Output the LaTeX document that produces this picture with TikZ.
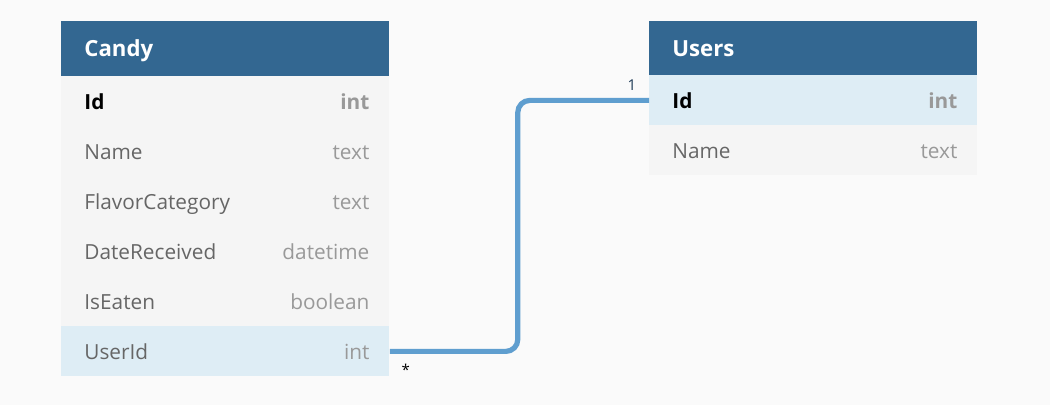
\documentclass[tikz,border=0pt]{standalone}
\usepackage{fontspec}
\setmainfont{Open Sans}
\usetikzlibrary{positioning}
\definecolor{ebg}{HTML}{FAFAFA}
\definecolor{ehead}{HTML}{336791}
\definecolor{erow}{HTML}{F5F5F5}
\definecolor{ekey}{HTML}{DEEDF5}
\definecolor{eline}{HTML}{5F9ECF}
\definecolor{efield}{HTML}{666666}
\definecolor{etype}{HTML}{999999}
\definecolor{ecard}{HTML}{1F3B57}

\tikzset{
 tblhead/.style={fill=ehead, minimum width=164pt, minimum height=27.5pt, inner sep=0pt, anchor=north west},
 tblrow/.style={fill=erow, minimum width=164pt, minimum height=25pt, inner sep=0pt, anchor=north west},
 tbltitle/.style={anchor=west, text=white, font=\fontsize{11.1}{13}\selectfont\bfseries, inner sep=0pt, text height=0.72em, text depth=0pt},
 fieldname/.style={anchor=west, text=efield, font=\fontsize{10.4}{12}\selectfont, inner sep=0pt, yshift=-0.6pt, text height=0.72em, text depth=0pt},
 fieldtype/.style={anchor=east, text=etype, font=\fontsize{10.4}{12}\selectfont, inner sep=0pt, yshift=-0.6pt, text height=0.72em, text depth=0pt},
 rel/.style={draw=eline, line width=2.6pt, rounded corners=6pt},
 card/.style={font=\fontsize{7.5}{9}\selectfont, inner sep=0pt}
}

\begin{document}
\begin{tikzpicture}[x=0.5pt,y=-0.5pt]
 \fill[ebg] (0,0) rectangle (1050,405);
 \useasboundingbox (0,0) rectangle (1050,405);
 % Candy table
 \node[tblhead] (candy) at (61,21) {};
 \node[tbltitle] (candy-title) at ([xshift=11.5pt]candy.west) {Candy};
 \node[tblrow] (candy-id) at (61,76) {};
 \node[fieldname, text=black, font=\fontsize{10.4}{12}\selectfont\bfseries] at ([xshift=11.5pt]candy-id.west) {Id};
 \node[fieldtype, font=\fontsize{10.4}{12}\selectfont\bfseries] at ([xshift=-10pt]candy-id.east) {int};
 \foreach \f/\t [count=\i] in {Name/text, FlavorCategory/text, DateReceived/datetime, IsEaten/boolean} {
  \node[tblrow] (candy-\i) at (61,76+50*\i) {};
  \node[fieldname] at ([xshift=11.5pt]candy-\i.west) {\f};
  \node[fieldtype] at ([xshift=-10pt]candy-\i.east) {\t};
 }
 \node[tblrow, fill=ekey] (candy-userid) at (61,326) {};
 \node[fieldname] at ([xshift=11.5pt]candy-userid.west) {UserId};
 \node[fieldtype] at ([xshift=-10pt]candy-userid.east) {int};
 % Users table
 \node[tblhead] (users) at (649,21) {};
 \node[tbltitle] (users-title) at ([xshift=11.5pt]users.west) {Users};
 \node[tblrow, fill=ekey] (users-id) at (649,75) {};
 \node[fieldname, text=black, font=\fontsize{10.4}{12}\selectfont\bfseries] at ([xshift=11.5pt]users-id.west) {Id};
 \node[fieldtype, font=\fontsize{10.4}{12}\selectfont\bfseries] at ([xshift=-10pt]users-id.east) {int};
 \node[tblrow] (users-name) at (649,125) {};
 \node[fieldname] at ([xshift=11.5pt]users-name.west) {Name};
 \node[fieldtype] at ([xshift=-10pt]users-name.east) {text};
 % relation
 \draw[rel] (candy-userid.east) -- ++(64pt,0) |- (users-id.west);
 \node[card, text=ecard] (one) at ([xshift=-8.5pt,yshift=7.5pt]users-id.west) {1};
 \node[card] (many) at ([xshift=8pt,yshift=-9pt]candy-userid.east) {*};
\end{tikzpicture}
\end{document}
